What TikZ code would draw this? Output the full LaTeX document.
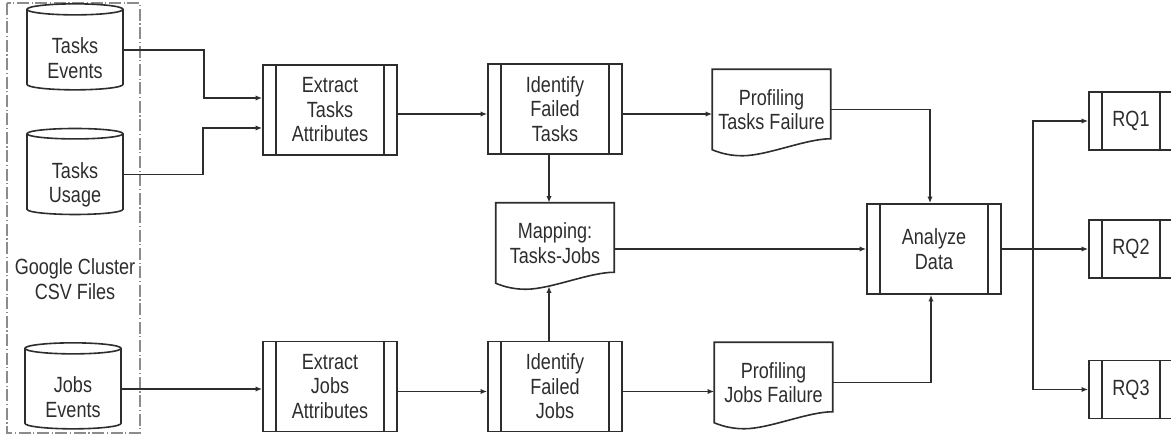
\documentclass[tikz,border=0pt]{standalone}
\usepackage{fontspec}
\setmainfont{Liberation Sans}[FakeStretch=0.82]
\usetikzlibrary{shapes.geometric,arrows.meta,calc}

\definecolor{ink}{RGB}{45,45,45}
\definecolor{framegray}{RGB}{140,140,140}

% outline of a document symbol (wavy bottom) drawn round node #1
\newcommand{\docoutline}[1]{%
  \draw[box] (#1.north west) -- (#1.north east) -- ($(#1.south east)+(0,-11)$)
    .. controls ($(#1.south east)+(-25,-11)$) and ($(#1.south west)+(55,6)$) .. ($(#1.south west)+(30,6)$)
    .. controls ($(#1.south west)+(15,6)$) and ($(#1.south west)+(5,2)$) .. (#1.south west) -- cycle;}

\begin{document}
\begin{tikzpicture}[x=0.75pt,y=0.75pt,yscale=-1,xscale=1,
    every node/.style={font=\fontsize{16.5}{18.4}\selectfont, text=ink, align=center},
    box/.style={draw=ink, line width=1.2pt},
    proc/.style={box, rectangle, inner sep=0pt, minimum width=100.5pt, minimum height=67.5pt,
      path picture={
        \draw[ink, line width=1.2pt]
          ([xshift=9.75pt]path picture bounding box.north west) -- ([xshift=9.75pt]path picture bounding box.south west)
          ([xshift=-9.75pt]path picture bounding box.north east) -- ([xshift=-9.75pt]path picture bounding box.south east);}},
    rq/.style={minimum width=63pt, minimum height=43.5pt},
    doc/.style={rectangle, inner sep=0pt, minimum width=88.5pt, minimum height=60pt},
    db/.style={box, cylinder, shape border rotate=90, aspect=0.2, inner sep=0pt,
      minimum width=72pt, minimum height=64.5pt, text height=44.2pt, text depth=2pt},
    arrow/.style={draw=ink, line width=1.1pt, -{Latex[length=5pt,width=4pt]}}]
  \useasboundingbox (0,0) rectangle (1171,441);

  %Shape: Dash-dot frame round the csv sources
  \draw[framegray, line width=0.9pt, dash pattern=on 9pt off 2pt on 0.8pt off 2pt] (7,3) rectangle (140,433);

  %Shape: Cylinders
  \node[db] (te) at (75,50) {Tasks\\Events};
  \node[db] (tu) at (75,174.5) {Tasks\\Usage};
  \node[db] (je) at (73,389) {Jobs\\Events};
  % Text Node
  \node (csv) at (75,279) {Google Cluster\\CSV Files};

  %Shape: Processes
  \node[proc] (et) at (330,110) {Extract\\Tasks\\Attributes};
  \node[proc] (it) at (555,109) {Identify\\Failed\\Tasks};
  \node[proc] (ej) at (330,386.5) {Extract\\Jobs\\Attributes};
  \node[proc] (ij) at (555,386.5) {Identify\\Failed\\Jobs};
  \node[proc] (ad) at (934,249) {Analyze\\Data};
  \node[proc, rq] (rq1) at (1131,121) {RQ1};
  \node[proc, rq] (rq2) at (1131,249) {RQ2};
  \node[proc, rq] (rq3) at (1131,389.5) {RQ3};

  %Shape: Documents
  \node[doc] (pt) at (771.5,109.5) {Profiling\\Tasks Failure};
  \node[doc] (mp) at (555,243) {Mapping:\\Tasks-Jobs};
  \node[doc] (pj) at (773.5,382.5) {Profiling\\Jobs Failure};
  \docoutline{pt}
  \docoutline{mp}
  \docoutline{pj}

  % Connectors
  \draw[arrow] (te.east) -- ++(80,0) |- ($(et.west)+(0,-12)$);
  \draw[arrow] (tu.east) -- ++(79,0) |- ($(et.west)+(0,18)$);
  \draw[arrow] (je.east) -- (je.east -| ej.west);
  \draw[arrow] ($(et.east)+(0,4)$) -- ($(it.west)+(0,5)$);
  \draw[arrow] ($(it.east)+(0,5)$) -- ($(pt.west)+(0,4.5)$);
  \draw[arrow] ($(ej.east)+(0,5)$) -- ($(ij.west)+(0,5)$);
  \draw[arrow] ($(ij.east)+(0,5)$) -- ($(pj.west)+(0,9)$);
  \draw[arrow] ($(it.south)+(-6,0)$) -- ($(mp.north)+(-6,0)$);
  \draw[arrow] ($(ij.north)+(-6,0)$) -- ($(mp.south)+(-6,3)$);
  \draw[arrow] (mp.east |- ad.west) -- (ad.west);
  \draw[arrow] (pt.east) -| ($(ad.north)+(-4,0)$);
  \draw[arrow] (pj.east) -| ($(ad.south)+(-3,0)$);
  \draw[arrow] (ad.east) -- (rq2.west);
  \draw[arrow] (ad.east) -- ++(31,0) |- (rq1.west);
  \draw[arrow] (ad.east) -- ++(31,0) |- (rq3.west);
\end{tikzpicture}
\end{document}
